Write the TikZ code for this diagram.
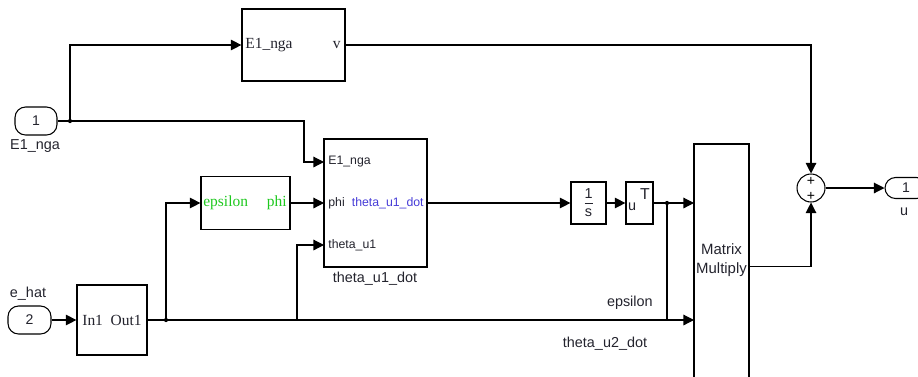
\documentclass[tikz,border=0pt]{standalone}
\usepackage{fontspec}
\setmainfont{Liberation Serif}
\setsansfont{Liberation Sans}
\usetikzlibrary{arrows.meta,calc}
\definecolor{simgreen}{RGB}{30,200,30}
\definecolor{simblue}{RGB}{70,60,215}
\definecolor{labelgray}{RGB}{35,35,45}

\begin{document}
\begin{tikzpicture}[x=0.02cm, y=-0.02cm,
    blk/.style={draw, line width=0.7pt, inner sep=0pt},
    port/.style={draw, line width=0.6pt, rounded corners=6pt, inner sep=0pt,
        font=\sffamily\fontsize{8}{9}\selectfont, text=labelgray},
    sig/.style={line width=0.65pt, -{Triangle[length=6pt,width=6pt]}},
    wire/.style={line width=0.65pt},
    lbl/.style={font=\sffamily\fontsize{8.2}{9}\selectfont, text=labelgray, inner sep=0pt},
    plbl/.style={font=\sffamily\fontsize{7}{8}\selectfont, text=labelgray, inner sep=0pt},
    slbl/.style={font=\rmfamily\fontsize{8.8}{10}\selectfont, text=labelgray, inner sep=0pt},
    jdot/.style={circle, fill, inner sep=0pt, minimum size=2.4pt}]
    \clip (0,0) rectangle (918,376);

    % In- and outports
    \node[port, minimum width=0.84cm, minimum height=0.56cm] (in1) at (36,121) {1};
    \node[port, minimum width=0.86cm, minimum height=0.56cm] (in2) at (29.5,320) {2};
    \node[port, minimum width=0.84cm, minimum height=0.42cm] (out1) at (906,188) {1};
    \node[lbl] (lin1) at (35,146) {E1\_nga};
    \node[lbl] (lin2) at (28,294) {e\_hat};
    \node[lbl] (lout) at (904,212) {u};

    % Blocks
    \node[blk, minimum width=2.06cm, minimum height=1.44cm] (blkv) at (293.5,45) {};
    \node[slbl, anchor=west] (blkvin) at (245,45) {E1\_nga};
    \node[slbl, anchor=east] (blkvout) at (341,45) {v};

    \node[blk, minimum width=2.06cm, minimum height=2.56cm] (sub) at (375.5,203) {};
    \node[plbl, anchor=west] (subin1) at (328,162) {E1\_nga};
    \node[plbl, anchor=west] (subin2) at (328,203) {phi};
    \node[plbl, anchor=east, text=simblue] (subout) at (424,203) {theta\_u1\_dot};
    \node[plbl, anchor=west] (subin3) at (328,245) {theta\_u1};
    \node[lbl] (lsub) at (375,279) {theta\_u1\_dot};

    \node[blk, minimum width=1.78cm, minimum height=1.06cm] (eps) at (245.5,203) {};
    \node[slbl, anchor=west, text=simgreen] (epsin) at (203,203) {epsilon};
    \node[slbl, anchor=east, text=simgreen] (epsout) at (287,203) {phi};

    \node[blk, minimum width=1.40cm, minimum height=1.40cm] (dz) at (112,320) {};
    \node[slbl] (dztxt) at (112,320) {In1\,\,\,Out1};

    \node[blk, minimum width=0.70cm, minimum height=0.84cm] (int) at (588.5,203) {};
    \node[lbl] (intnum) at (588.5,194) {1};
    \draw[line width=0.5pt, labelgray] (584.5,203) -- (592.5,203);
    \node[lbl] (intden) at (588.5,213) {s};

    \node[blk, minimum width=0.54cm, minimum height=0.84cm] (ut) at (639.5,203) {};
    \node[lbl] (utu) at (632,207) {u};
    \node[lbl, font=\sffamily\fontsize{9}{10}\selectfont] (utt) at (645,194) {T};

    \node[blk, minimum width=1.10cm, minimum height=4.90cm] (mm) at (721.5,266.5) {};
    \node[align=center, inner sep=0pt, font=\sffamily\fontsize{8.5}{10.5}\selectfont,
        text=labelgray] (mmtxt) at (721.5,260) {Matrix\\Multiply};

    \node[draw, circle, line width=0.6pt, minimum size=0.56cm, inner sep=0pt] (sum) at (811,188) {};
    \node[font=\sffamily\fontsize{8}{9}\selectfont, inner sep=0pt] (sumtop) at (811,181) {+};
    \node[font=\sffamily\fontsize{8}{9}\selectfont, inner sep=0pt] (sumbot) at (811,196) {+};

    % Ports and branch points
    \coordinate (subE) at (324,162);
    \coordinate (subP) at (324,203);
    \coordinate (subT) at (324,245);
    \coordinate (mmA) at (694,203);
    \coordinate (mmB) at (694,320);
    \node[jdot] (j1) at (70,121) {};
    \node[jdot] (j2) at (166,320) {};
    \node[jdot] (j3) at (667,203) {};
    \coordinate (j4) at (297,320);

    % Signal lines
    \draw[wire] (in1.east) -- (j1.center);
    \draw[sig] (j1.center) |- (blkv.west);
    \draw[sig] (j1.center) -| ($(subE)+(-20,0)$) -- (subE);
    \draw[sig] (blkv.east) -| (sum.north);
    \draw[sig] (in2.east) -- (dz.west);
    \draw[wire] (dz.east) -- (j2.center);
    \draw[sig] (j2.center) -- (mmB);
    \draw[sig] (j2.center) |- (eps.west);
    \draw[sig] (j4) |- (subT);
    \draw[sig] (eps.east) -- (subP);
    \draw[sig] (sub.east) -- (int.west);
    \draw[sig] (int.east) -- (ut.west);
    \draw[wire] (ut.east) -- (j3.center);
    \draw[sig] (j3.center) -- (mmA);
    \draw[wire] (j3.center) -- (j3 |- mmB);
    \draw[sig] (mm.east) -| (sum.south);
    \draw[sig] (sum.east) -- (out1.west);

    % Signal names
    \node[lbl, anchor=east] (leps) at (653,303) {epsilon};
    \node[lbl] (lth2) at (605,344) {theta\_u2\_dot};
\end{tikzpicture}
\end{document}
